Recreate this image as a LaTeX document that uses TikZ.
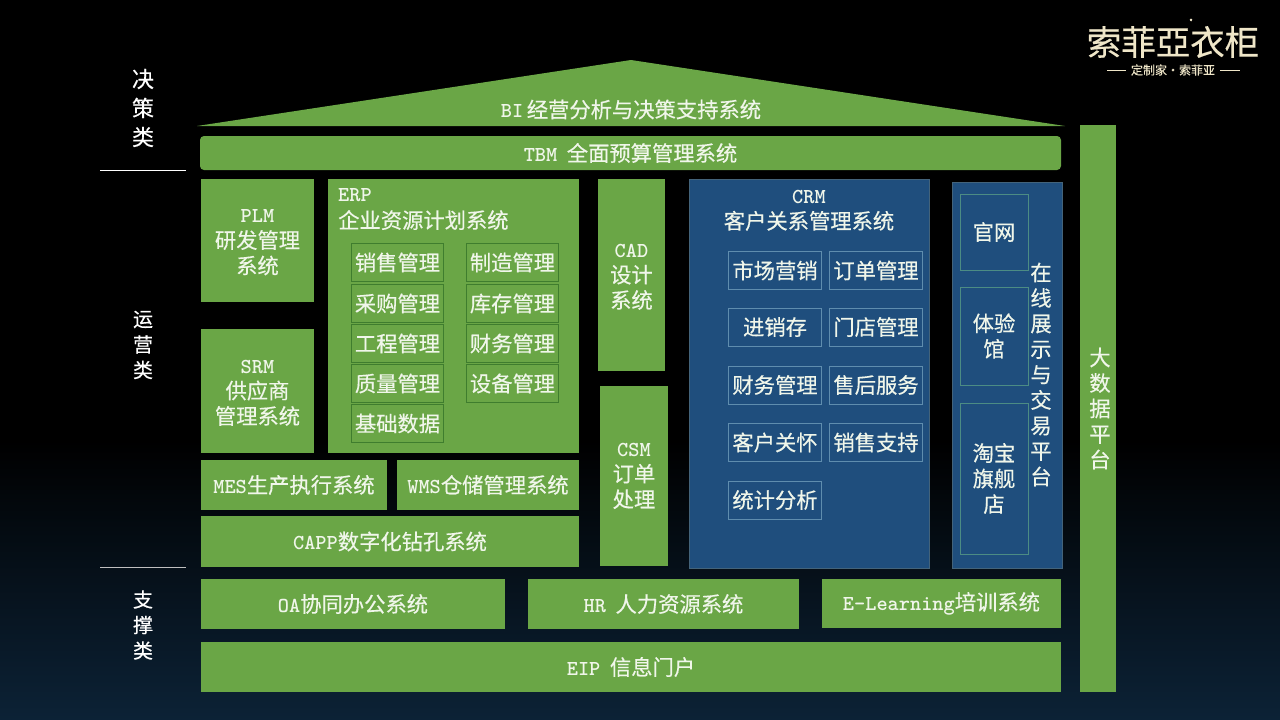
\documentclass[tikz,border=0pt]{standalone}
\usepackage{fontspec}
\setmainfont[FakeBold=.4]{Noto Sans CJK SC}
\usepackage{tikz}
\definecolor{sysgreen}{HTML}{6AA646}
\definecolor{sysblue}{HTML}{1F4E7D}
\definecolor{subgreen}{HTML}{3F7D2E}
\definecolor{subblue}{HTML}{5F8DAE}
\definecolor{webline}{HTML}{4C8C84}
\definecolor{paper}{HTML}{F0F6EA}
\definecolor{logogold}{HTML}{EFE6C8}
\definecolor{nightblue}{HTML}{0C2236}
\newcommand{\lat}[1]{{\ttfamily\bfseries #1}}
\newcommand{\toppad}{\rule{0pt}{17pt}}

\begin{document}
\begin{tikzpicture}[x=1pt,y=-1pt,
    base text/.style={text=paper,align=center,inner sep=0pt,font=\fontsize{21.3}{25.5}\selectfont},
    green node/.style={base text,fill=sysgreen},
    blue node/.style={base text,fill=sysblue,draw=subblue!70!black,line width=.6pt},
    erp sub/.style={base text,draw=subgreen,line width=.7pt,minimum height=38pt},
    crm sub/.style={base text,draw=subblue,line width=.6pt,minimum width=93pt,minimum height=38pt},
    web sub/.style={base text,draw=webline,line width=.6pt,minimum width=68pt},
    side label/.style={base text,text=white}]

  \useasboundingbox (0,0) rectangle (1280,720);
  \fill[black] (0,0) rectangle (1280,440);
  \shade[top color=black,bottom color=nightblue] (0,440) rectangle (1280,720);

  % roof and top bar
  \fill[sysgreen] (197,126) -- (631,60) -- (1065,126) -- cycle;
  \node[base text] (bi) at (631,109.5) {\lat{BI}\,经营分析与决策支持系统};
  \node[green node,rounded corners=4pt,minimum width=861pt,minimum height=34pt] (tbm) at (630.5,153) {\lat{TBM}\ \ 全面预算管理系统};
  \node[green node,minimum width=36pt,minimum height=567pt] (bigdata) at (1098,408.5) {};
  \node[base text] (bigdatatext) at (1100,408.5) {大\\数\\据\\平\\台};

  % left column
  \node[side label,font=\fontsize{22}{29}\selectfont] (decide) at (143,108) {决\\策\\类};
  \node[side label,font=\fontsize{20}{25.5}\selectfont] (operate) at (143,345) {运\\营\\类};
  \node[side label,font=\fontsize{20}{25.5}\selectfont] (support) at (143,625) {支\\撑\\类};
  \coordinate (upperL) at (100,170);
  \coordinate (upperR) at (186,170);
  \coordinate (lowerL) at (100,567);
  \coordinate (lowerR) at (186,567);
  \draw[white,line width=.7pt] (upperL) -- (upperR);
  \draw[white!75!black,line width=.7pt] (lowerL) -- (lowerR);

  % operations block
  \node[green node,minimum width=113pt,minimum height=123pt] (plm) at (257.5,240.5) {\toppad\lat{PLM}\\研发管理\\系统};
  \node[green node,minimum width=113pt,minimum height=124pt] (srm) at (257.5,391) {\toppad\lat{SRM}\\供应商\\管理系统};
  \node[green node,minimum width=251pt,minimum height=274pt] (erp) at (453.5,316) {};
  \node[base text,align=left,anchor=north west] (erptitle) at (338,188) {\lat{ERP}\\[1.5pt]企业资源计划系统};
  \foreach \name/\txt/\px/\py in {sale/销售管理/397.5/262.5,buy/采购管理/397.5/303.5,eng/工程管理/397.5/343.5,
      qual/质量管理/397.5/383.5,basic/基础数据/397.5/423.5,make/制造管理/512.5/262.5,store/库存管理/512.5/303.5,
      fin/财务管理/512.5/343.5,equip/设备管理/512.5/383.5}
    \node[erp sub,minimum width=92pt] (\name) at (\px,\py) {\txt};
  \node[green node,minimum width=186pt,minimum height=50pt] (mes) at (294,485) {\lat{MES}生产执行系统};
  \node[green node,minimum width=182pt,minimum height=50pt] (wms) at (488,485) {\lat{WMS}仓储管理系统};
  \node[green node,minimum width=378pt,minimum height=51pt] (capp) at (390,541.5) {\lat{CAPP}数字化钻孔系统};
  \node[green node,minimum width=67pt,minimum height=192pt] (cad) at (631.5,275) {\toppad\lat{CAD}\\设计\\系统};
  \node[green node,minimum width=68pt,minimum height=180pt] (csm) at (634,476) {\lat{CSM}\\订单\\处理};

  % crm block
  \node[blue node,minimum width=240pt,minimum height=389pt] (crm) at (809,374) {};
  \node[base text] (crmtitle) at (809,210.5) {\lat{CRM}\\客户关系管理系统};
  \foreach \name/\txt/\px/\py in {market/市场营销/775/270.5,stock/进销存/775/327,money/财务管理/775/385,
      care/客户关怀/775/442.5,stat/统计分析/775/500,order/订单管理/876/270.5,shop/门店管理/876/327,
      after/售后服务/876/385,help/销售支持/876/442.5}
    \node[crm sub] (\name) at (\px,\py) {\txt};

  % online platform
  \node[blue node,minimum width=110pt,minimum height=386pt] (online) at (1007,375) {};
  \node[web sub,minimum height=76pt] (web) at (994,232) {官网};
  \node[web sub,minimum height=98pt] (hall) at (994,336) {体验\\馆};
  \node[web sub,minimum height=151pt] (taobao) at (994,478.5) {淘宝\\旗舰\\店};
  \node[base text] (onlinetext) at (1041,374.5) {在\\线\\展\\示\\与\\交\\易\\平\\台};

  % support block
  \node[green node,minimum width=304pt,minimum height=50pt] (oa) at (353,604) {\lat{OA}协同办公系统};
  \node[green node,minimum width=271pt,minimum height=50pt] (hr) at (663.5,604) {\lat{HR}\ \ 人力资源系统};
  \node[green node,minimum width=239pt,minimum height=49pt] (elearn) at (941.5,603.5) {\lat{E-Learning}培训系统};
  \node[green node,minimum width=860pt,minimum height=50pt] (eip) at (631,667) {\lat{EIP}\ \ 信息门户};

  % logo
  \node[text=logogold,inner sep=0pt,font=\fontsize{34.5}{34}\selectfont] (logo) at (1173,42) {索菲亞衣柜};
  \node[text=logogold,inner sep=0pt,font=\fontsize{6}{6}\selectfont] (regmark) at (1191,21) {®};
  \node[text=logogold,inner sep=0pt,inner xsep=5pt,font=\fontsize{12}{12}\selectfont] (slogan) at (1173,70) {定制家·索菲亚};
  \coordinate (sloganL) at (1107,70);
  \coordinate (sloganR) at (1240,70);
  \draw[logogold,line width=.7pt] (sloganL) -- (slogan.west);
  \draw[logogold,line width=.7pt] (slogan.east) -- (sloganR);
\end{tikzpicture}
\end{document}
